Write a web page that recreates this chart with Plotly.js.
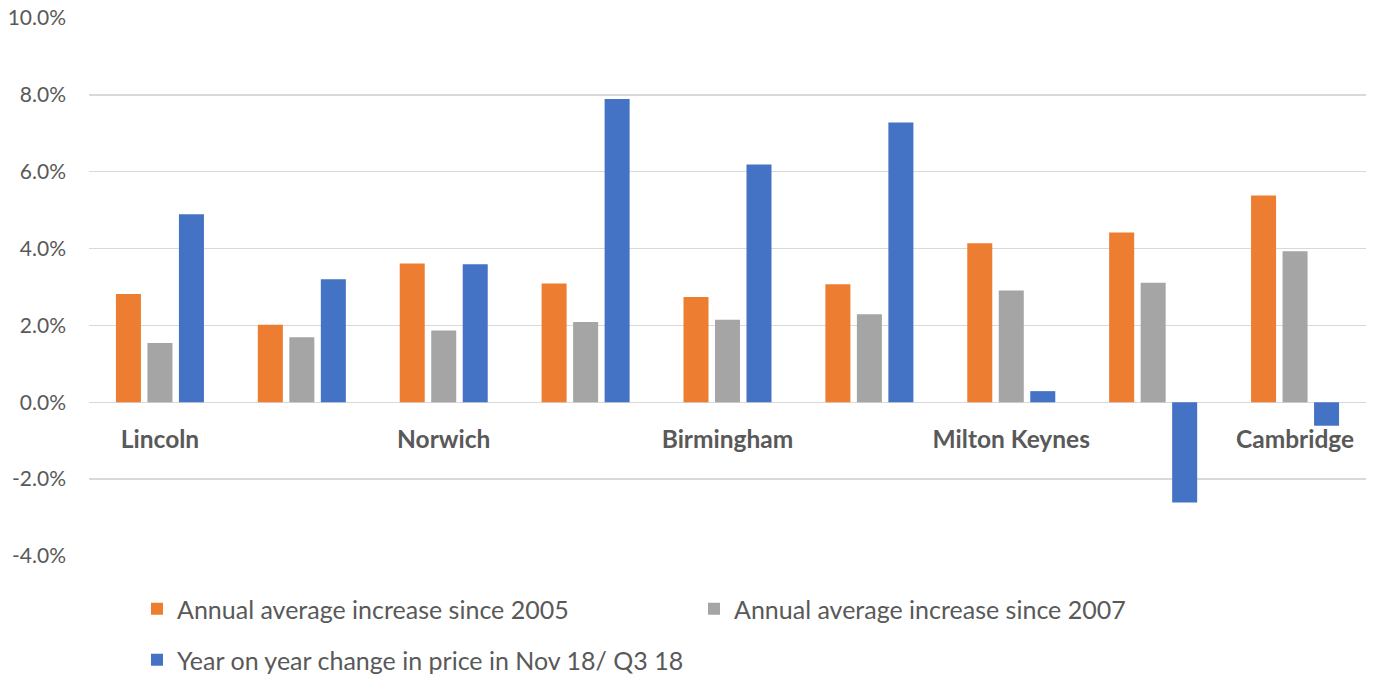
<!DOCTYPE html>
<html>
<head>
<meta charset="utf-8">
<script src="https://cdn.plot.ly/plotly-3.0.1.min.js"></script>
<style>
  html, body { margin: 0; padding: 0; background: #ffffff; }
  #chart { width: 1376px; height: 678px; }
</style>
</head>
<body>
<div id="chart"></div>
<script>
// Category positions (9 groups; only every other one is labelled in the source)
const groupIndex = [0, 1, 2, 3, 4, 5, 6, 7, 8];
const labelPositions = [0, 2, 4, 6, 8];
const labelTexts = ["Lincoln", "Norwich", "Birmingham", "Milton Keynes", "Cambridge"];

// Series values (%)
const since2005 = [2.82, 2.02, 3.61, 3.09, 2.74, 3.07, 4.14, 4.42, 5.38];
const since2007 = [1.54, 1.69, 1.87, 2.09, 2.15, 2.29, 2.91, 3.11, 3.93];
const yearOnYear = [4.89, 3.20, 3.59, 7.89, 6.19, 7.28, 0.29, -2.61, -0.61];

const seriesNames = [
  "Annual average increase since 2005",
  "Annual average increase since 2007",
  "Year on year change in price in Nov 18/ Q3 18"
];

// Y-axis ticks
const yTickVals = [-4, -2, 0, 2, 4, 6, 8, 10];
const yTickText = ["-4.0%", "-2.0%", "0.0%", "2.0%", "4.0%", "6.0%", "8.0%", "10.0%"];

const FONT = "Lato, 'Open Sans', sans-serif";
const yMin = -4, yMax = 10;

const traces = [
  { type: "bar", x: groupIndex, y: since2005, name: seriesNames[0],
    marker: { color: "#ED7D31" }, legend: "legend", hoverinfo: "skip" },
  { type: "bar", x: groupIndex, y: since2007, name: seriesNames[1],
    marker: { color: "#A5A5A5" }, legend: "legend", hoverinfo: "skip" },
  { type: "bar", x: groupIndex, y: yearOnYear, name: seriesNames[2],
    marker: { color: "#4472C4" }, legend: "legend2", hoverinfo: "skip" }
];

const legendCommon = {
  orientation: "h",
  xref: "container", yref: "container",
  xanchor: "left", yanchor: "middle",
  font: { family: FONT, size: 25, color: "#595959" },
  bgcolor: "rgba(0,0,0,0)",
  entrywidth: 512, entrywidthmode: "pixels",
  itemwidth: 30,
  traceorder: "normal"
};

const layout = {
  width: 1376, height: 678,
  margin: { l: 89, r: 10, t: 18, b: 122 },
  paper_bgcolor: "#ffffff",
  plot_bgcolor: "#ffffff",
  barmode: "group",
  bargap: 0.334,
  bargroupgap: 0.206,
  font: { family: FONT, color: "#595959" },
  showlegend: true,
  xaxis: {
    range: [-0.5, 8.5],
    tickvals: labelPositions,
    ticktext: labelTexts,
    tickfont: { family: FONT, size: 24.5, color: "#595959", weight: "bold" },
    showgrid: false, showline: false, zeroline: false,
    ticks: "",
    anchor: "free",
    position: (0 - yMin) / (yMax - yMin),
    ticklabelstandoff: 20,
    fixedrange: true
  },
  yaxis: {
    range: [yMin, yMax],
    tickvals: yTickVals,
    ticktext: yTickText,
    tickfont: { family: FONT, size: 21, color: "#595959" },
    showgrid: true, gridcolor: "#D9D9D9", gridwidth: 1.5,
    zeroline: true, zerolinecolor: "#D9D9D9", zerolinewidth: 1.5,
    showline: false, ticks: "",
    ticklabelstandoff: 22,
    fixedrange: true
  },
  legend: Object.assign({}, legendCommon, { x: 137 / 1376, y: 1 - 609 / 678 }),
  legend2: Object.assign({}, legendCommon, { x: 137 / 1376, y: 1 - 660 / 678 })
};

Plotly.newPlot("chart", traces, layout, { displayModeBar: false, staticPlot: true });
</script>
</body>
</html>
